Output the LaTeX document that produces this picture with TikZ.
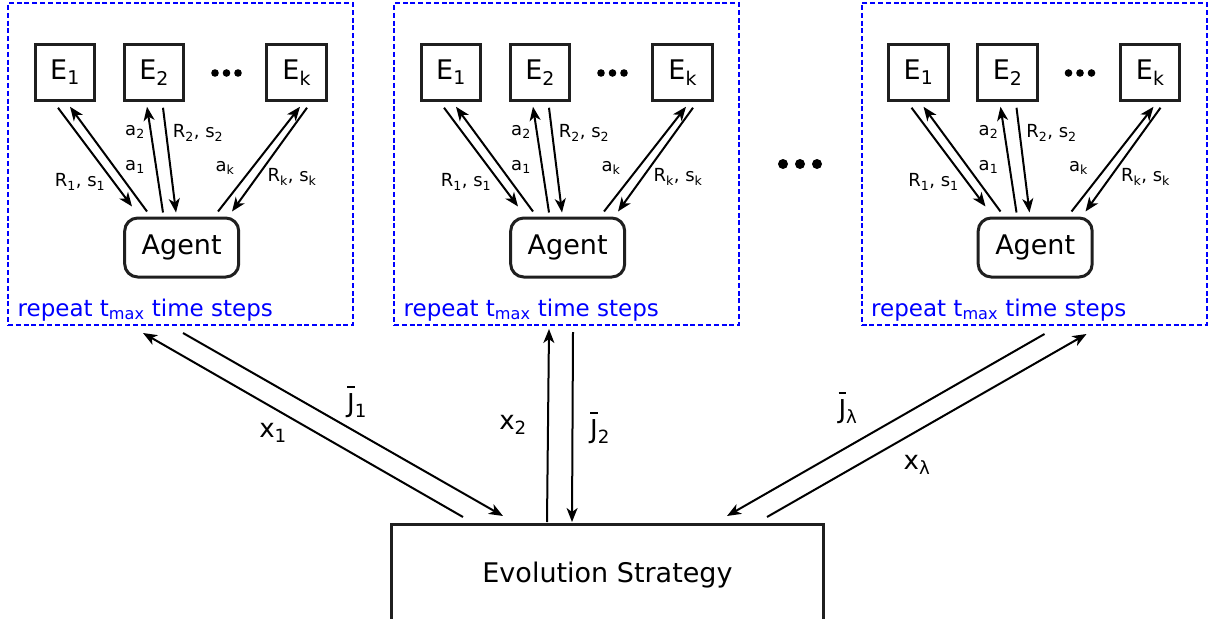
\documentclass[tikz,border=0pt]{standalone}
\usepackage{fontspec}
\setmainfont{DejaVu Sans}
\usetikzlibrary{arrows.meta,calc}
\newcommand{\fs}[1]{\fontsize{#1}{#1}\selectfont}
% J with a bar set a little above it
\newcommand{\jbar}{{\setbox0\hbox{J}\rlap{\rule[\dimexpr\ht0+0.2em\relax]{\wd0}{0.065em}}J}}
\begin{document}
\begin{tikzpicture}[x=1pt,y=-1pt,
  envbox/.style={draw=black!88,line width=3pt,minimum width=59.5pt,minimum height=55.5pt,inner sep=0pt,font=\fs{27}},
  agentbox/.style={draw=black!88,line width=3pt,rounded corners=13pt,minimum width=114pt,minimum height=59pt,inner sep=0pt,font=\fs{27}},
  panel/.style={draw=blue,line width=2pt,dash pattern=on 5pt off 2.8pt,minimum width=345pt,minimum height=322pt,inner sep=0pt},
  esbox/.style={draw=black!88,line width=3pt,minimum width=432pt,minimum height=101pt,inner sep=0pt,font=\fs{27}},
  arr/.style={-{Stealth[length=14pt,width=11pt,inset=4pt]},line width=2pt},
  small/.style={font=\fs{18},inner sep=0pt},
  big/.style={font=\fs{26},inner sep=0pt},
  note/.style={font=\fs{23},text=blue,inner sep=0pt,anchor=base west},
  dot/.style={fill=black,draw=none}]
\useasboundingbox (0,0) rectangle (1209,618);

% one inner loop per population member
\foreach \p/\dx in {1/0,2/386,3/853.5}{
  \begin{scope}[xshift=\dx pt]
    \node[panel] (p\p) at (180.5,164) {};
    \node[envbox] (p\p-e1) at (65,72.5) {E\textsubscript{1}};
    \node[envbox] (p\p-e2) at (154.2,72.5) {E\textsubscript{2}};
    \node[envbox] (p\p-ek) at (296.7,72.5) {E\textsubscript{k}};
    \fill[dot] (215,73) circle (3.8) (226.5,73) circle (3.8) (238,73) circle (3.8);
    \node[agentbox] (p\p-ag) at (181.7,247.5) {Agent};
    \node[note] (p\p-rep) at (17.5,316) {repeat t\textsubscript{max} time steps};

    \draw[arr] ($(p\p-e1.south)+(-7,6)$) -- ($(p\p-ag.north)+(-49.7,-10)$);
    \draw[arr] ($(p\p-ag.north)+(-34.7,-5)$) -- ($(p\p-e1.south)+(5,5)$);
    \draw[arr] ($(p\p-ag.north)+(-18.7,-4)$) -- ($(p\p-e2.south)+(-7.2,5)$);
    \draw[arr] ($(p\p-e2.south)+(8.8,6)$) -- ($(p\p-ag.north)+(-5.7,-4)$);
    \draw[arr] ($(p\p-ag.north)+(36.3,-5)$) -- ($(p\p-ek.south)+(3.3,5)$);
    \draw[arr] ($(p\p-ek.south)+(10.3,6)$) -- ($(p\p-ag.north)+(50.3,-5)$);

    \node[small] (p\p-la2) at (135,132) {a\textsubscript{2}};
    \node[small] (p\p-lr2) at (198,133) {R\textsubscript{2}, s\textsubscript{2}};
    \node[small] (p\p-la1) at (135,167) {a\textsubscript{1}};
    \node[small] (p\p-lr1) at (80,182) {R\textsubscript{1}, s\textsubscript{1}};
    \node[small] (p\p-lak) at (225,168) {a\textsubscript{k}};
    \node[small] (p\p-lrk) at (292,177) {R\textsubscript{k}, s\textsubscript{k}};
  \end{scope}
}

% further population members
\fill[dot] (783,164) circle (5) (800,164) circle (5) (817,164) circle (5);

\node[esbox] (es) at (607.5,575) {Evolution Strategy};

% parameters out, mean returns back
\draw[arr] ($(es.north)+(-144.5,-6)$) -- ($(p1.south)+(-37.5,7)$);
\draw[arr] ($(p1.south)+(2.5,7)$) -- ($(es.north)+(-104.5,-7)$);
\draw[arr] ($(es.north)+(-60.5,-1)$) -- ($(p2.south)+(-17.5,3)$);
\draw[arr] ($(p2.south)+(6.5,6)$) -- ($(es.north)+(-35.5,-1)$);
\draw[arr] ($(p3.south)+(10.5,8)$) -- ($(es.north)+(119.5,-7)$);
\draw[arr] ($(es.north)+(159.5,-6)$) -- ($(p3.south)+(52.5,8)$);

\node[big] (lx1) at (273,433) {x\textsubscript{1}};
\node[big] (lj1) at (357,402) {\jbar\textsubscript{1}};
\node[big] (lx2) at (513,425) {x\textsubscript{2}};
\node[big] (lj2) at (600,428) {\jbar\textsubscript{2}};
\node[big] (ljl) at (848,408) {\jbar\textsubscript{λ}};
\node[big] (lxl) at (917,465) {x\textsubscript{λ}};
\end{tikzpicture}
\end{document}
